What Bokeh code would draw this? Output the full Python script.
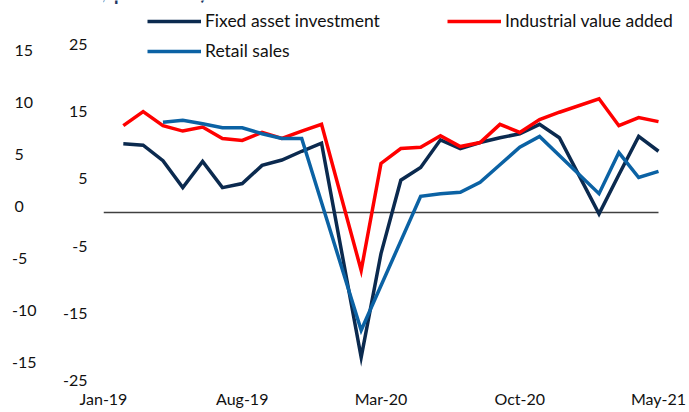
from bokeh.plotting import figure
from bokeh.models import (Range1d, LinearAxis, FixedTicker, Legend, LegendItem, Label)
from bokeh.embed import file_html
from bokeh.resources import INLINE

# ---- data (month index: 0 = Jan-19 ... 28 = May-21) ----
x_tick_months = [0, 7, 14, 21, 28]
x_tick_labels = ["Jan-19", "Aug-19", "Mar-20", "Oct-20", "May-21"]

fai_months = [1, 2, 3, 4, 5, 6, 7, 8, 9, 10, 11, 13, 14, 15, 16, 17, 18, 19, 20, 21, 22, 23, 25, 26, 27, 28]
fai_values = [10.2, 10.0, 7.7, 3.7, 7.6, 3.7, 4.3, 7.0, 7.8, 9.1, 10.3, -21.5, -6.1, 4.8, 6.7, 10.8, 9.5, 10.4, 11.1, 11.7, 13.1, 11.1, -0.2, 5.6, 11.3, 9.1]

iva_months = [1, 2, 3, 4, 5, 6, 7, 8, 9, 10, 11, 13, 14, 15, 16, 17, 18, 19, 20, 21, 22, 23, 25, 26, 27, 28]
iva_values = [12.9, 15.0, 12.9, 12.1, 12.7, 11.0, 10.7, 11.9, 11.0, 12.1, 13.1, -8.6, 7.3, 9.5, 9.7, 11.4, 9.8, 10.4, 13.1, 11.9, 13.8, 14.9, 16.9, 12.9, 14.1, 13.5]

retail_months = [3, 4, 5, 6, 7, 8, 9, 10, 13, 16, 17, 18, 19, 20, 21, 22, 25, 26, 27, 28]
retail_values = [13.4, 13.7, 13.2, 12.6, 12.6, 11.7, 11.0, 11.0, -17.5, 2.4, 2.8, 3.0, 4.5, 7.1, 9.7, 11.3, 2.8, 8.9, 5.2, 6.1]

inner_ticks = [25, 15, 5, -5, -15, -25]
inner_labels = ["25", "15", "5", "-5", "-15", "-25"]
outer_ticks = [15, 10, 5, 0, -5, -10, -15]
outer_labels = ["15\u2008", "10\u2008", "5\u2007\u2008", "0\u2007\u2008", "-5\u2007", "-10", "-15"]

title_text = "(y/y, percent)"
names = ["Fixed asset investment", "Industrial value added", "Retail sales"]
colors = ["#0B2A4F", "#FF0000", "#0B62A4"]

FONT = "Lato"
TXT = "#111111"

p = figure(width=689, height=412, output_backend="svg", toolbar_location=None,
           x_range=Range1d(0, 29.564), y_range=Range1d(-26.15, 31.50),
           min_border_left=103, min_border_right=0, min_border_top=0, min_border_bottom=24)
p.outline_line_color = None
p.xgrid.visible = False
p.ygrid.visible = False
p.background_fill_color = "white"
p.border_fill_color = "white"

p.extra_y_ranges = {"outer": Range1d(-17.58, 19.73)}

def style_axis(ax, standoff):
    ax.axis_line_color = None
    ax.major_tick_line_color = None
    ax.minor_tick_line_color = None
    ax.major_tick_out = 0
    ax.major_tick_in = 0
    ax.minor_tick_out = 0
    ax.minor_tick_in = 0
    ax.major_label_standoff = standoff
    ax.major_label_text_font = FONT
    ax.major_label_text_font_size = "16px"
    ax.major_label_text_color = TXT

# x axis
xa = p.xaxis[0]
xa.ticker = FixedTicker(ticks=x_tick_months)
xa.major_label_overrides = {m: l for m, l in zip(x_tick_months, x_tick_labels)}
style_axis(xa, 0)

# inner y axis
ya = p.yaxis[0]
ya.ticker = FixedTicker(ticks=inner_ticks)
ya.major_label_overrides = {t: l for t, l in zip(inner_ticks, inner_labels)}
style_axis(ya, 16)

# outer y axis
oa = LinearAxis(y_range_name="outer", ticker=FixedTicker(ticks=outer_ticks))
oa.major_label_overrides = {t: l for t, l in zip(outer_ticks, outer_labels)}
style_axis(oa, 23)
p.add_layout(oa, "left")

# zero line from first to last month
p.line([x_tick_months[0], x_tick_months[-1]], [0, 0], line_color="#404040", line_width=1.5)

r_fai = p.line(fai_months, fai_values, line_color=colors[0], line_width=3.5, line_join="miter")
r_iva = p.line(iva_months, iva_values, line_color=colors[1], line_width=3.5, line_join="miter")
r_ret = p.line(retail_months, retail_values, line_color=colors[2], line_width=3.5, line_join="miter")

def mk_legend(items, loc, lw):
    return Legend(items=items, location=loc, orientation="horizontal",
                  glyph_width=54, glyph_height=20, label_standoff=4, label_height=20,
                  label_width=lw, padding=0, margin=0, spacing=0,
                  border_line_alpha=0, background_fill_alpha=0,
                  label_text_font=FONT, label_text_font_size="17.5px", label_text_color=TXT)

leg1 = mk_legend([LegendItem(label=names[0], renderers=[r_fai]),
                  LegendItem(label=names[1], renderers=[r_iva])], (44, 357), 242)
leg2 = mk_legend([LegendItem(label=names[2], renderers=[r_ret])], (44, 327), 20)
p.add_layout(leg1)
p.add_layout(leg2)

# heading, cut off at the top edge as in the source image
p.add_layout(Label(x=-46, y=400, x_units="screen", y_units="screen", text=title_text,
                   text_font=FONT, text_font_size="26px", text_color="#1F3864",
                   text_baseline="alphabetic", text_align="left"))

open("out.html", "w").write(file_html(p, INLINE))
